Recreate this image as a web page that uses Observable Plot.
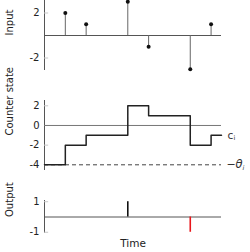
<!DOCTYPE html>
<html><head><meta charset="utf-8">
<script src="https://cdn.jsdelivr.net/npm/d3@7"></script>
<script src="https://cdn.jsdelivr.net/npm/@observablehq/plot@0.6"></script>
<style>
body{margin:0;background:#fff;}
#c{position:relative;width:250px;height:252px;font-family:"DejaVu Sans",sans-serif;}
#c svg{position:absolute;left:0;overflow:visible;}
</style></head>
<body><div id="c"></div>
<script>
// Input spikes
const inputTimes = [1, 2, 4, 5, 7, 8];
const inputValues = [2, 1, 3, -1, -3, 1];
// Counter state (step function)
const counterTimes = [0, 1, 2, 4, 5, 7, 8, 8.5];
const counterValues = [-4, -2, -1, 2, 1, -2, -1, -1];
const threshold = -4;
// Output spikes
const outputTimes = [4, 7];
const outputValues = [1, -1];
const outputColors = ["#111", "#e8161b"];
// Tick labels
const inputTicks = [2, -2];
const counterTicks = [2, 0, -2, -4];
const outputTicks = [1, -1];
const panelLabels = ["Input", "Counter state", "Output"];

const X_DOMAIN = [0, 8.5];
const FONT = "DejaVu Sans, sans-serif";
const common = {width: 250, marginLeft: 44, marginRight: 29, x: {domain: X_DOMAIN, axis: null}, style: {fontFamily: FONT, fontSize: "10px", background: "transparent", overflow: "visible"}};

function axisMarks(ticks, domain, label) {
  return [
    Plot.ruleX([0], {y1: domain[0], y2: domain[1], stroke: "#555", strokeWidth: 1}),
    Plot.ruleY(ticks, {x1: 0, x2: 0.2, stroke: "#c8c8c8"}),
    Plot.axisY(ticks, {tickSize: 0, tickPadding: 5, tickFormat: d => String(d), label: null, fontSize: 10, fill: "#222"}),
    Plot.text([label], {frameAnchor: "left", dx: -35, rotate: -90, fontSize: 10, fill: "#222"})
  ];
}

const root = document.getElementById("c");
const idx = d3.range(inputTimes.length);

// Panel 1: Input
const d1 = [-3.11, 3.11];
const p1 = Plot.plot({
  ...common, height: 72, marginTop: 0, marginBottom: 2,
  y: {domain: d1, axis: null},
  marks: [
    ...axisMarks(inputTicks, d1, panelLabels[0]),
    Plot.ruleY([0], {x1: 0, x2: X_DOMAIN[1], stroke: "#555"}),
    Plot.ruleX(idx, {x: i => inputTimes[i], y1: 0, y2: i => inputValues[i], stroke: "#666"}),
    Plot.dot(idx, {x: i => inputTimes[i], y: i => inputValues[i], r: 2, fill: "#111", stroke: "none"})
  ]
});
p1.style.top = "0px";
root.appendChild(p1);

// Panel 2: Counter state
const d2 = [-4.58, 2.54];
const cidx = d3.range(counterTimes.length);
const lastC = counterValues[counterValues.length - 1];
const p2 = Plot.plot({
  ...common, height: 80, marginTop: 5, marginBottom: 5,
  y: {domain: d2, axis: null},
  marks: [
    ...axisMarks(counterTicks, d2, panelLabels[1]),
    Plot.ruleY([0], {x1: 0, x2: X_DOMAIN[1], stroke: "#777"}),
    Plot.ruleY([threshold], {x1: 0, x2: X_DOMAIN[1], stroke: "#444", strokeDasharray: "4,3"}),
    Plot.line(cidx, {x: i => counterTimes[i], y: i => counterValues[i], curve: "step-after", stroke: "#222", strokeWidth: 1.5}),
    Plot.text(["c"], {x: X_DOMAIN[1], y: lastC, dx: 6, textAnchor: "start", fontSize: 10.5, fill: "#333"}),
    Plot.text(["i"], {x: X_DOMAIN[1], y: lastC, dx: 12, dy: 3, textAnchor: "start", fontSize: 6.5, fill: "#333"}),
    Plot.text(["\u2212"], {x: X_DOMAIN[1], y: threshold, dx: 5, textAnchor: "start", fontSize: 11, fill: "#333"}),
    Plot.text(["\u03B8"], {x: X_DOMAIN[1], y: threshold, dx: 14, textAnchor: "start", fontSize: 11.5, fontStyle: "italic", fill: "#333"}),
    Plot.text(["i"], {x: X_DOMAIN[1], y: threshold, dx: 21, dy: 3, textAnchor: "start", fontSize: 6.5, fontStyle: "italic", fill: "#333"})
  ]
});
p2.style.top = "95px";
root.appendChild(p2);

// Panel 3: Output
const d3dom = [-1.08, 1.08];
const oidx = d3.range(outputTimes.length);
const p3 = Plot.plot({
  ...common, height: 57, marginTop: 5, marginBottom: 19,
  y: {domain: d3dom, axis: null},
  marks: [
    ...axisMarks(outputTicks, d3dom, panelLabels[2]),
    Plot.ruleY([0], {x1: 0, x2: X_DOMAIN[1], stroke: "#555"}),
    Plot.ruleX(oidx, {x: i => outputTimes[i], y1: 0, y2: i => outputValues[i], stroke: i => outputColors[i], strokeWidth: 1.6}),
    Plot.text(["Time"], {x: X_DOMAIN[1] / 2, frameAnchor: "bottom", dy: 10, lineAnchor: "middle", fontSize: 10.5, fill: "#222"})
  ]
});
p3.style.top = "195px";
root.appendChild(p3);
</script></body></html>
